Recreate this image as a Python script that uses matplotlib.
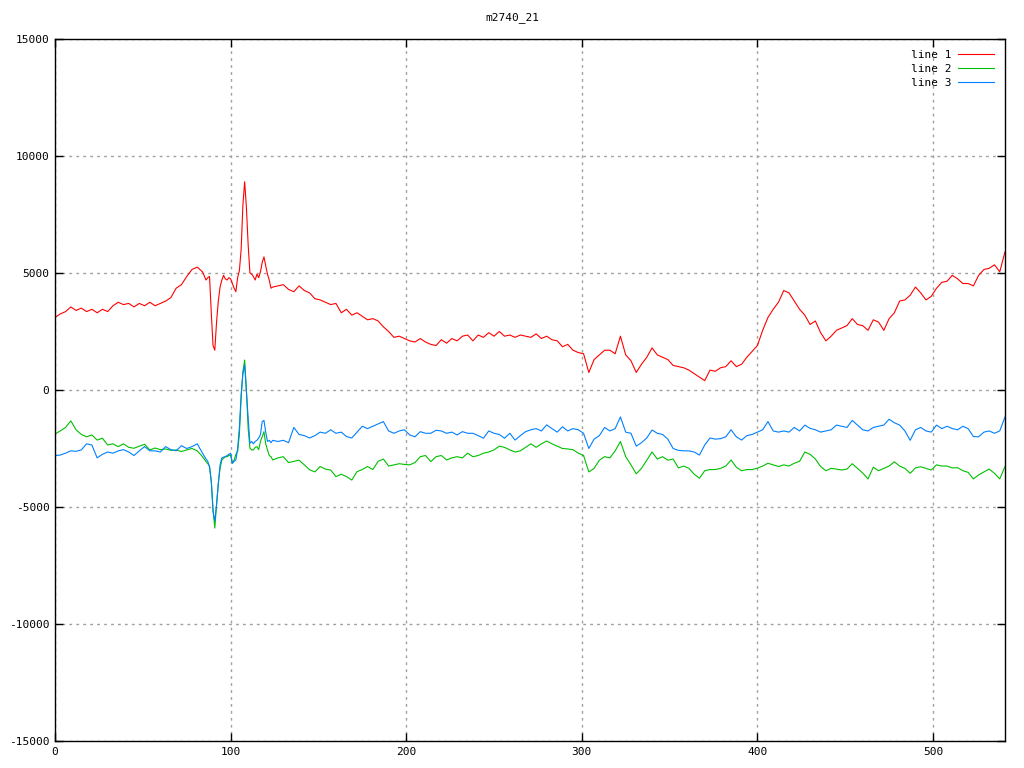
import numpy as np
import matplotlib
matplotlib.use('Agg')
import matplotlib.pyplot as plt

# sample positions: coarse at the start, dense around the spike, coarse after
x = np.r_[np.arange(0, 85, 3), np.arange(86, 125, 1), np.arange(127, 542, 3)]

line1 = [
    3100, 3250, 3350, 3550, 3400, 3500, 3350, 3450, 3300, 3450,
    3350, 3600, 3750, 3650, 3700, 3550, 3700, 3600, 3750, 3600,
    3700, 3800, 3950, 4350, 4500, 4850, 5150, 5250, 5050,
    # 86..124
    4700, 4800, 4850, 3300, 1900, 1700, 2900, 3800, 4400, 4700,
    4900, 4750, 4700, 4800, 4750, 4550, 4350, 4200, 4800, 5100,
    6000, 7900, 8900, 7800, 6200, 5000, 4950, 4850, 4700, 4950,
    4800, 5050, 5450, 5690, 5300, 4950, 4700, 4350, 4400,
    # 127..541
    4450, 4500, 4300, 4200, 4450, 4250, 4150, 3900, 3850, 3750,
    3650, 3700, 3300, 3450, 3200, 3300, 3150, 3000, 3050, 2950,
    2700, 2500, 2250, 2300, 2200, 2100, 2050, 2200, 2050, 1950,
    1900, 2150, 2000, 2200, 2100, 2300, 2350, 2100, 2350, 2250,
    2450, 2300, 2500, 2300, 2350, 2250, 2350, 2300, 2250, 2400,
    2200, 2300, 2150, 2100, 1850, 1950, 1700, 1600, 1550, 750,
    1300, 1500, 1700, 1700, 1550, 2300, 1500, 1250, 750, 1100,
    1400, 1800, 1500, 1400, 1300, 1050, 1000, 950, 850, 700,
    550, 400, 850, 800, 950, 1000, 1250, 1000, 1100, 1400,
    1650, 1900, 2550, 3100, 3450, 3750, 4250, 4150, 3800, 3450,
    3200, 2800, 2950, 2450, 2100, 2300, 2550, 2650, 2750, 3050,
    2800, 2750, 2550, 3000, 2900, 2550, 3050, 3300, 3800, 3850,
    4050, 4400, 4150, 3850, 4000, 4350, 4600, 4650, 4900, 4750,
    4550, 4550, 4450, 4900, 5150, 5200, 5350, 5050, 5900,
]

line2 = [
    -1880, -1750, -1600, -1320, -1700, -1900, -2000, -1920, -2140, -2060,
    -2350, -2300, -2420, -2300, -2450, -2490, -2400, -2320, -2560, -2480,
    -2550, -2520, -2580, -2560, -2630, -2560, -2500, -2600, -2850,
    # 86..124
    -3060, -3150, -3250, -3900, -5100, -5900, -4900, -4000, -3350, -3000,
    -2920, -2850, -2850, -2800, -2780, -3130, -3000, -2750, -2630, -1900,
    -350, 780, 1280, 0, -1640, -2490, -2560, -2560, -2450, -2420,
    -2550, -2200, -1990, -1780, -2300, -2560, -2800, -2850, -2990,
    # 127..541
    -2900, -2850, -3100, -3050, -3000, -3200, -3410, -3500, -3270, -3380,
    -3420, -3700, -3600, -3700, -3850, -3490, -3400, -3270, -3400, -3050,
    -2950, -3250, -3200, -3150, -3180, -3200, -3100, -2850, -2800, -3060,
    -2850, -2800, -2990, -2900, -2850, -2900, -2700, -2850, -2800, -2700,
    -2650, -2560, -2400, -2450, -2560, -2650, -2600, -2450, -2300, -2450,
    -2300, -2180, -2300, -2400, -2500, -2520, -2550, -2700, -2800, -3500,
    -3350, -3000, -2850, -2900, -2600, -2200, -2850, -3200, -3580, -3350,
    -3000, -2650, -2950, -2850, -3000, -2950, -3330, -3250, -3350, -3600,
    -3770, -3450, -3400, -3400, -3350, -3250, -2990, -3300, -3450, -3400,
    -3400, -3340, -3250, -3130, -3200, -3270, -3200, -3250, -3130, -3050,
    -2650, -2750, -2950, -3270, -3450, -3350, -3380, -3420, -3380, -3150,
    -3350, -3550, -3800, -3300, -3450, -3350, -3250, -3070, -3250, -3350,
    -3560, -3330, -3280, -3350, -3420, -3200, -3250, -3250, -3330, -3320,
    -3450, -3520, -3800, -3630, -3500, -3380, -3560, -3800, -3270,
]

line3 = [
    -2800, -2780, -2700, -2600, -2620, -2560, -2300, -2350, -2900, -2750,
    -2650, -2700, -2600, -2550, -2650, -2800, -2600, -2420, -2600, -2600,
    -2650, -2420, -2550, -2600, -2380, -2500, -2420, -2300, -2700,
    # 86..124
    -2950, -3050, -3300, -3900, -5200, -5600, -4900, -4000, -3200, -2900,
    -2870, -2850, -2800, -2750, -2700, -3130, -3050, -2990, -2500, -1600,
    -200, 700, 1070, -100, -1200, -2280, -2200, -2300, -2200, -2150,
    -2050, -1900, -1350, -1300, -1800, -2200, -2150, -2250, -2150,
    # 127..541
    -2200, -2150, -2250, -1600, -1900, -1950, -2050, -1950, -1800, -1850,
    -1700, -1850, -1800, -1990, -2050, -1800, -1550, -1650, -1550, -1450,
    -1350, -1750, -1850, -1750, -1700, -1920, -2000, -1780, -1850, -1850,
    -1720, -1750, -1850, -1800, -1920, -1780, -1850, -1850, -1950, -2060,
    -1750, -1850, -1900, -2060, -1850, -2140, -1950, -1780, -1700, -1650,
    -1750, -1490, -1650, -1800, -1570, -1750, -1650, -1700, -1850, -2500,
    -2100, -1950, -1600, -1750, -1650, -1150, -1800, -1850, -2400, -2250,
    -2050, -1710, -1850, -1900, -2100, -2500, -2580, -2600, -2600, -2650,
    -2780, -2350, -2050, -2100, -2080, -2000, -1700, -2000, -2140, -1950,
    -1900, -1800, -1700, -1350, -1750, -1800, -1750, -1800, -1600, -1750,
    -1500, -1640, -1700, -1800, -1750, -1700, -1500, -1550, -1600, -1300,
    -1500, -1700, -1750, -1600, -1550, -1500, -1250, -1400, -1500, -1750,
    -2150, -1700, -1600, -1750, -1800, -1500, -1650, -1550, -1650, -1700,
    -1550, -1650, -1990, -2000, -1800, -1750, -1850, -1750, -1150,
]

plt.rcParams['font.family'] = ['DejaVu Sans Mono']
plt.rcParams['font.size'] = 8
plt.rcParams['axes.unicode_minus'] = False

fig = plt.figure(figsize=(10.24, 7.68), dpi=100)
ax = fig.add_axes([55 / 1024, 27 / 768, 950 / 1024, 702 / 768])

lw = 0.8
ax.plot(x, line1, color='#ff0000', lw=lw, label='line 1')
ax.plot(x, line2, color='#00c000', lw=lw, label='line 2')
ax.plot(x, line3, color='#0080ff', lw=lw, label='line 3')

ax.set_xlim(0, 541)
ax.set_ylim(-15000, 15000)
ax.set_xticks(range(0, 501, 100))
ax.set_yticks(range(-15000, 15001, 5000))
ax.tick_params(direction='in', length=6, width=1, top=True, right=True,
               labelsize=8, pad=4, colors='black')
ax.grid(True, color='#a0a0a0', linestyle=(0, (2, 3)), linewidth=1)
for s in ax.spines.values():
    s.set_linewidth(1)
    s.set_color('black')

fig.text(0.5, 1 - 18 / 768, 'm2740_21', ha='center', va='center', fontsize=8)

leg = ax.legend(loc='upper right', frameon=False, markerfirst=False,
                handlelength=3.2, handletextpad=0.6, labelspacing=0.35,
                borderaxespad=0.6, fontsize=8)

plt.savefig('out.png', dpi=100)
